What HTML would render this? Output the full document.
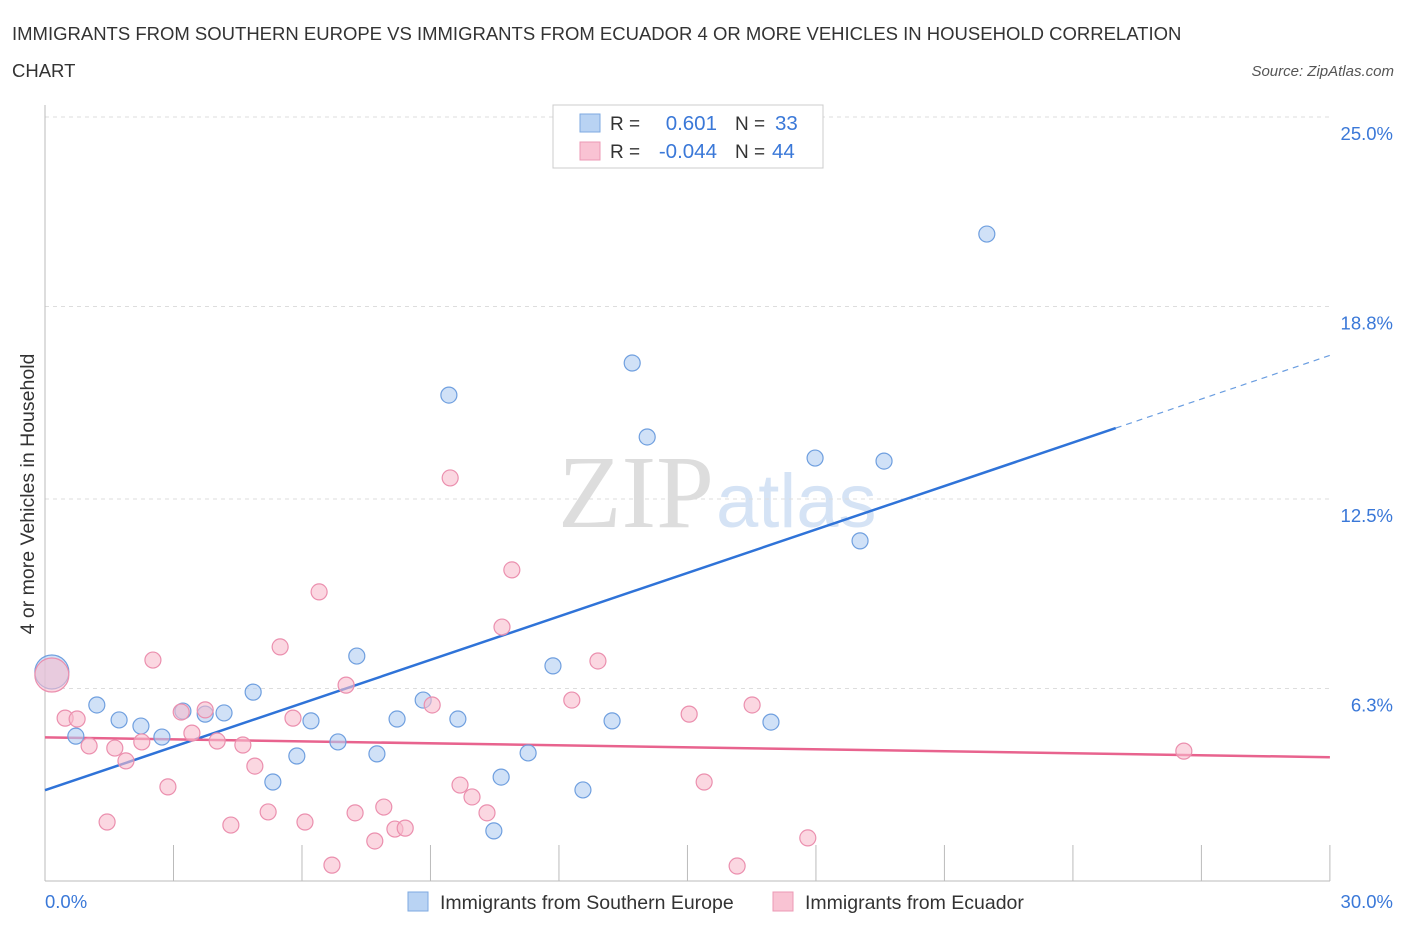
<!DOCTYPE html>
<html><head><meta charset="utf-8"><style>
body{margin:0;background:#fff;font-family:"Liberation Sans",sans-serif;}
</style></head><body>
<svg id="chart" width="1406" height="930" xmlns="http://www.w3.org/2000/svg">
<text x="12" y="40" font-size="18.5" fill="#333">IMMIGRANTS FROM SOUTHERN EUROPE VS IMMIGRANTS FROM ECUADOR 4 OR MORE VEHICLES IN HOUSEHOLD CORRELATION</text>
<text x="12" y="77" font-size="18.5" fill="#333">CHART</text>
<text x="1394" y="76" font-size="15" fill="#555" font-style="italic" text-anchor="end">Source: ZipAtlas.com</text>
<text x="714" y="527" font-size="104" fill="#ddd" text-anchor="end" font-family="Liberation Serif,serif">ZIP</text>
<text x="716" y="527" font-size="76" fill="#d5e3f5">atlas</text>
<g id="grid"></g><g id="axes"></g><g id="lines"></g><g id="pts"></g>
<text transform="translate(34,494) rotate(-90)" font-size="19.5" fill="#333" text-anchor="middle">4 or more Vehicles in Household</text>
<text x="45" y="908" font-size="18.5" fill="#3a78d8">0.0%</text>
<text x="1393" y="908" font-size="18.5" fill="#3a78d8" text-anchor="end">30.0%</text>
<g>
<rect x="553" y="105" width="270" height="63" fill="#fff" stroke="#ccc"/>
<rect x="580" y="114" width="20" height="18" fill="#b9d3f3" stroke="#7ea9e0"/>
<rect x="580" y="142" width="20" height="18" fill="#f9c3d3" stroke="#ec9ab5"/>
<text x="610" y="130" font-size="19" fill="#333">R =</text><text x="717" y="130" font-size="20.5" fill="#3a78d8" text-anchor="end">0.601</text>
<text x="735" y="130" font-size="19" fill="#333">N =</text><text x="775" y="130" font-size="20.5" fill="#3a78d8">33</text>
<text x="610" y="158" font-size="19" fill="#333">R =</text><text x="717" y="158" font-size="20.5" fill="#3a78d8" text-anchor="end">-0.044</text>
<text x="735" y="158" font-size="19" fill="#333">N =</text><text x="772" y="158" font-size="20.5" fill="#3a78d8">44</text>
</g>
<g>
<rect x="408" y="892" width="20" height="19" fill="#b9d3f3" stroke="#7ea9e0"/>
<text x="440" y="909" font-size="19.5" fill="#333">Immigrants from Southern Europe</text>
<rect x="773" y="892" width="20" height="19" fill="#f9c3d3" stroke="#ec9ab5"/>
<text x="805" y="909" font-size="19.5" fill="#333">Immigrants from Ecuador</text>
</g>
</svg>
<script>
const yTicks=[6.3,12.5,18.8,25.0];
const yTickLabels=["6.3%","12.5%","18.8%","25.0%"];
const xTicks=[0,3,6,9,12,15,18,21,24,27,30];
const blueX=[0.16,0.72,1.21,1.73,2.24,2.73,3.22,3.74,4.18,4.86,5.32,5.88,6.21,6.84,7.28,7.75,8.22,8.83,9.43,9.64,10.48,10.65,11.28,11.86,12.56,13.24,13.71,14.06,16.95,17.98,19.03,19.59,21.99];
const blueY=[6.84,4.74,5.76,5.27,5.07,4.71,5.56,5.46,5.50,6.18,3.24,4.09,5.24,4.55,7.36,4.16,5.30,5.92,15.90,5.30,1.64,3.40,4.19,7.04,2.98,5.24,16.95,14.53,5.20,13.84,11.13,13.74,21.17];
const pinkX=[0.16,0.47,0.75,1.03,1.45,1.63,1.89,2.26,2.52,2.87,3.18,3.43,3.74,4.02,4.34,4.62,4.90,5.21,5.49,5.79,6.07,6.40,6.70,7.03,7.24,7.70,7.91,8.17,8.41,9.04,9.46,9.69,9.97,10.32,10.67,10.90,12.30,12.91,15.04,15.39,16.16,16.51,17.81,26.59];
const pinkY=[6.74,5.33,5.30,4.42,1.93,4.35,3.93,4.55,7.23,3.08,5.53,4.84,5.60,4.58,1.83,4.45,3.76,2.26,7.66,5.33,1.93,9.46,0.52,6.41,2.23,1.31,2.42,1.70,1.73,5.76,13.19,3.14,2.75,2.23,8.31,10.18,5.92,7.20,5.46,3.24,0.49,5.76,1.41,4.25];
const blueTrend=[[0,2.97],[25,14.82],[30,17.2]];
const pinkTrend=[[0,4.7],[30,4.05]];
const X=v=>45+v*42.83, Y=v=>881-v*30.56;
const NS="http://www.w3.org/2000/svg";
function mk(p,t,a){const e=document.createElementNS(NS,t);for(const k in a)e.setAttribute(k,a[k]);document.getElementById(p).appendChild(e);return e;}
yTicks.forEach((t,i)=>{
 const l=mk('grid','line',{x1:45,x2:1330,y1:Y(t),y2:Y(t),stroke:'#ddd','stroke-dasharray':'4,4'});
 
 
 const tx=mk('grid','text',{x:1393,y:Y(t)+23,'font-size':18.5,fill:'#3a78d8','text-anchor':'end'});
 tx.textContent=yTickLabels[i];
 
 
});
const ax=mk('axes','line',{x1:45,x2:45,y1:105,y2:881,stroke:'#bbb'});


const bx=mk('axes','line',{x1:45,x2:1330,y1:881,y2:881,stroke:'#bbb'});


xTicks.forEach(t=>{const l=mk('axes','line',{x1:X(t),x2:X(t),y1:845,y2:881,stroke:'#bbb'});
 
 });
const b1=mk('lines','line',{x1:X(blueTrend[0][0]),y1:Y(blueTrend[0][1]),x2:X(blueTrend[1][0]),y2:Y(blueTrend[1][1]),stroke:'#2f73d8','stroke-width':2.5});


const b2=mk('lines','line',{x1:X(blueTrend[1][0]),y1:Y(blueTrend[1][1]),x2:X(blueTrend[2][0]),y2:Y(blueTrend[2][1]),stroke:'#6a9de0','stroke-width':1.2,'stroke-dasharray':'6,5'});


const p1=mk('lines','line',{x1:X(pinkTrend[0][0]),y1:Y(pinkTrend[0][1]),x2:X(pinkTrend[1][0]),y2:Y(pinkTrend[1][1]),stroke:'#e8638e','stroke-width':2.5});


function pts(xs,ys,fill,stroke,name){xs.forEach((x,i)=>{const c=mk('pts','circle',{cx:X(x),cy:Y(ys[i]),r:i===0?17:8,fill:fill,'fill-opacity':0.6,stroke:stroke,'stroke-width':1.2});
 
 });}
pts(blueX,blueY,'#b0cdf2','#6f9fdf','southern-europe-point');
pts(pinkX,pinkY,'#f8bccd','#eb8fae','ecuador-point');
</script>
</body></html>
